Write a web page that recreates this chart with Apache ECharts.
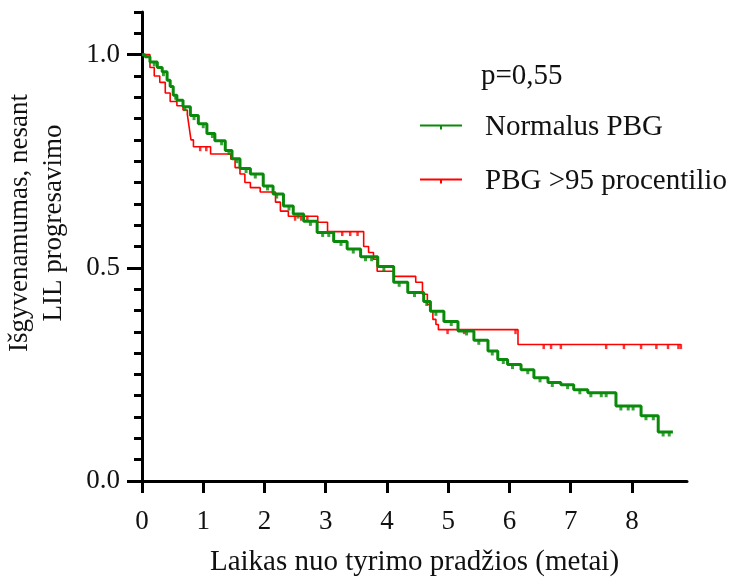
<!DOCTYPE html>
<html><head><meta charset="utf-8">
<script src="https://cdn.jsdelivr.net/npm/echarts@6/dist/echarts.min.js"></script>
<style>html,body{margin:0;padding:0;background:#fff}#c{width:734px;height:580px}</style>
</head><body><div id="c"></div>
<script>
// ---- data ----
const seriesNames = ['Normalus PBG', 'PBG >95 procentilio'];
const pValueText = 'p=0,55';
const xTickValues = [0, 1, 2, 3, 4, 5, 6, 7, 8];
const yLabelValues = [0, 0.5, 1.0];
const yMinorTickValues = [0,0.05,0.1,0.15,0.2,0.25,0.3,0.35,0.4,0.45,0.5,0.55,0.6,0.65,0.7,0.75,0.8,0.85,0.9,0.95,1.0,1.05,1.1];

const greenTimes = [0,0.05,0.13,0.25,0.33,0.41,0.46,0.51,0.57,0.67,0.79,0.92,1.06,1.19,1.36,1.47,1.6,1.77,1.98,2.14,2.31,2.47,2.64,2.86,3.13,3.35,3.57,3.85,4.11,4.34,4.6,4.71,4.93,5.16,5.42,5.65,5.81,5.97,6.19,6.4,6.63,6.84,7.05,7.28,7.74,8.15,8.43,8.67];
const greenSurv  = [1.0,0.995,0.983,0.97,0.96,0.94,0.925,0.905,0.893,0.878,0.857,0.838,0.815,0.798,0.775,0.756,0.733,0.72,0.692,0.673,0.645,0.626,0.609,0.583,0.562,0.544,0.526,0.503,0.466,0.442,0.421,0.398,0.374,0.352,0.33,0.305,0.285,0.273,0.261,0.242,0.231,0.226,0.214,0.207,0.176,0.153,0.115,0.115];
const greenCensor = [0.2,0.35,0.55,0.7,0.85,1.0,1.15,1.3,1.42,1.55,1.7,1.85,2.05,2.2,2.4,2.55,2.75,2.95,3.05,3.25,3.45,3.65,3.75,3.95,4.2,4.45,4.65,4.8,5.05,5.3,5.5,5.72,5.9,6.05,6.3,6.5,6.7,6.95,7.15,7.33,7.5,7.58,7.82,7.94,8.02,8.23,8.35,8.51,8.61];

const redTimes = [0,0.13,0.2,0.29,0.38,0.46,0.57,0.67,0.74,0.77,0.8,0.84,1.12,1.45,1.52,1.6,1.68,1.77,1.93,2.18,2.26,2.39,2.87,3.03,3.62,3.7,3.78,3.84,4.11,4.47,4.58,4.66,4.71,4.75,4.8,4.84,6.14,8.8];
const redSurv  = [1.0,0.97,0.95,0.935,0.91,0.89,0.88,0.87,0.86,0.83,0.8,0.784,0.767,0.755,0.735,0.72,0.70,0.688,0.678,0.654,0.633,0.621,0.607,0.585,0.55,0.536,0.52,0.492,0.48,0.466,0.438,0.414,0.398,0.379,0.367,0.355,0.32,0.32];
const redCensor = [0.95,1.05,2.5,2.6,2.7,3.27,3.4,3.52,4.99,5.26,6.1,6.56,6.68,6.84,7.58,7.87,8.15,8.4,8.59,8.76,8.8];

// ---- helpers ----
function zip(t, s) { return t.map((v, i) => [v, s[i]]); }
function survAt(t, times, surv) {
  let v = surv[0];
  for (let i = 0; i < times.length; i++) { if (times[i] <= t) v = surv[i]; }
  return v;
}
function censorPts(c, times, surv) { return c.map(t => [t, survAt(t, times, surv)]); }

const GREEN = '#0a8a0a', RED = '#ff0000';
const FONT = '"Liberation Serif", "Times New Roman", serif';
const legendIcon = 'path://M0,3 L42,3 L42,5 L0,5 Z M20,5 L22,5 L22,8 L20,8 Z';

const chart = echarts.init(document.getElementById('c'));
chart.setOption({
  animation: false,
  backgroundColor: '#fff',
  textStyle: { fontFamily: FONT },
  grid: { left: 142, right: 47, top: 12, bottom: 99, containLabel: false, outerBoundsMode: 'none' },
  title: {
    text: pValueText, left: 481, top: 60, padding: 0,
    textStyle: { fontFamily: FONT, fontSize: 29, lineHeight: 32, fontWeight: 'normal', color: '#111' }
  },
  legend: {
    orient: 'vertical', left: 420, top: 111, itemGap: 22, padding: 0,
    itemWidth: 42, itemHeight: 8,
    data: [
      { name: seriesNames[0], icon: legendIcon, itemStyle: { color: GREEN } },
      { name: seriesNames[1], icon: legendIcon, itemStyle: { color: RED } }
    ],
    textStyle: { fontFamily: FONT, fontSize: 29, lineHeight: 32, color: '#111', padding: [0, 0, 0, 18] }
  },
  graphic: [{
    type: 'text', x: 37, y: 223, rotation: Math.PI / 2,
    style: {
      text: 'Išgyvenamumas, nesant\nLIL progresavimo',
      font: '27px ' + FONT, fill: '#111', align: 'center', verticalAlign: 'middle', lineHeight: 34
    }
  }],
  xAxis: {
    type: 'value', min: 0, max: 8.9,
    name: 'Laikas nuo tyrimo pradžios (metai)', nameLocation: 'middle', nameGap: 67,
    nameTextStyle: { fontFamily: FONT, fontSize: 29, color: '#111' },
    axisLine: { lineStyle: { color: '#000', width: 3 } },
    axisTick: { customValues: xTickValues, length: 12, lineStyle: { color: '#000', width: 3 } },
    axisLabel: { customValues: xTickValues, margin: 27, fontFamily: FONT, fontSize: 27, color: '#111' },
    splitLine: { show: false }
  },
  yAxis: [{
    type: 'value', min: 0, max: 1.1,
    axisLine: { show: true, lineStyle: { color: '#000', width: 3 } },
    axisTick: { show: true, customValues: yMinorTickValues, length: 8, lineStyle: { color: '#000', width: 3 } },
    axisLabel: { customValues: yLabelValues, margin: 22, fontFamily: FONT, fontSize: 27, color: '#111',
                 formatter: v => v.toFixed(1) },
    splitLine: { show: false }
  }, {
    type: 'value', min: 0, max: 1.1, position: 'left',
    axisLine: { show: false },
    axisTick: { show: true, customValues: yLabelValues, length: 15, lineStyle: { color: '#000', width: 3 } },
    axisLabel: { show: false },
    splitLine: { show: false }
  }],
  series: [
    {
      name: seriesNames[0], type: 'line', step: 'end', showSymbol: false, z: 3,
      data: zip(greenTimes, greenSurv), color: GREEN,
      lineStyle: { color: GREEN, width: 3 }
    },
    {
      name: seriesNames[1], type: 'line', step: 'end', showSymbol: false, z: 2,
      data: zip(redTimes, redSurv), color: RED,
      lineStyle: { color: RED, width: 1.6 }
    },
    {
      name: seriesNames[0] + ' cens', type: 'scatter', z: 3, symbol: 'rect', symbolSize: [3, 5], symbolOffset: [0, 2],
      data: censorPts(greenCensor, greenTimes, greenSurv), itemStyle: { color: GREEN }
    },
    {
      name: seriesNames[1] + ' cens', type: 'scatter', z: 2, symbol: 'rect', symbolSize: [2.5, 5], symbolOffset: [0, 2],
      data: censorPts(redCensor, redTimes, redSurv), itemStyle: { color: RED }
    }
  ]
});
</script></body></html>
